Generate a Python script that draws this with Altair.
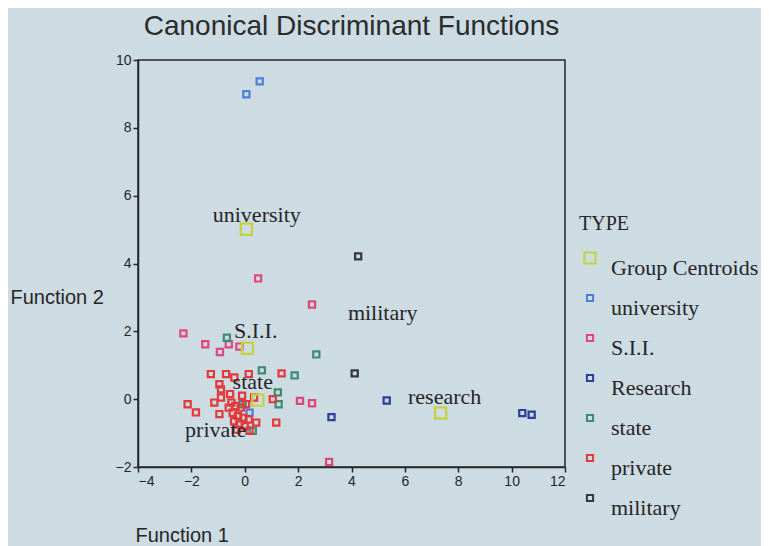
import altair as alt
import pandas as pd

# ---- data ----
order = ["Group Centroids", "university", "S.I.I.", "Research", "state", "private", "military"]
colors = ["#c6d23a", "#4a80d8", "#df4879", "#2c3e9c", "#3b8c70", "#e4393c", "#383838"]
sizes = [125, 38, 38, 38, 38, 38, 38]

uni_x = [0.56, 0.06, 0.18]
uni_y = [9.37, 8.99, -0.40]

sii_x = [0.50, 2.52, -2.30, -1.48, -0.93, -0.60, -0.20, 2.07, 2.52, 3.16]
sii_y = [3.56, 2.79, 1.94, 1.62, 1.39, 1.62, 1.55, -0.05, -0.12, -1.85]

res_x = [5.32, 3.25, 10.40, 10.75]
res_y = [-0.04, -0.53, -0.41, -0.46]

state_x = [0.64, 1.24, 1.27, -0.08, 0.30, 1.87, 2.68, -0.67]
state_y = [0.85, 0.20, -0.15, -0.15, -0.93, 0.70, 1.32, 1.81]

priv_x = [-1.27, -0.70, -0.39, -0.95, -0.89, 1.38, -2.14, -1.83, -1.14, -0.89,
          -0.95, 0.43, 1.05, 1.18, 0.18, 0.15, 0.35,
          -0.50, -0.35, -0.15, -0.45, -0.25, -0.05, -0.40, -0.20, 0.00, -0.30,
          -0.10, -0.60, 0.15, -0.55, 0.05]
priv_y = [0.74, 0.74, 0.64, 0.44, 0.29, 0.76, -0.15, -0.39, -0.10, 0.05,
          -0.44, -0.69, 0.00, -0.69, -0.93, 0.74, 0.05,
          -0.10, -0.20, -0.25, -0.40, -0.50, -0.55, -0.65, -0.75, -0.80, -0.90,
          0.10, -0.25, -0.60, 0.15, -0.15]

mil_x = [4.25, 4.12]
mil_y = [4.21, 0.76]

cen_x = [0.06, 0.10, 0.49, 7.34]
cen_y = [5.01, 1.50, -0.03, -0.41]

lab_text = ["university", "S.I.I.", "state", "private", "military", "research"]
lab_x = [0.45, 0.41, 0.30, -1.09, 5.17, 7.49]
lab_y = [5.44, 2.00, 0.50, -0.91, 2.53, 0.06]

x_ticks = [-4, -2, 0, 2, 4, 6, 8, 10, 12]
y_ticks = [-2, 0, 2, 4, 6, 8, 10]

# ---- build tables ----
rows = []
for name, xs, ys in [("university", uni_x, uni_y), ("S.I.I.", sii_x, sii_y),
                     ("Research", res_x, res_y), ("state", state_x, state_y),
                     ("private", priv_x, priv_y), ("military", mil_x, mil_y),
                     ("Group Centroids", cen_x, cen_y)]:
    for a, b in zip(xs, ys):
        rows.append({"x": a, "y": b, "type": name})
pts = pd.DataFrame(rows)
labs = pd.DataFrame({"x": lab_x, "y": lab_y, "text": lab_text})

ink = "#262626"
xscale = alt.Scale(domain=[-4, 12], nice=False, zero=False)
yscale = alt.Scale(domain=[-2, 10], nice=False, zero=False)

legend_kw = dict(
    title="TYPE", orient="none", legendX=441, legendY=154,
    titleFont="Liberation Serif", titleFontSize=20, titleFontWeight="normal",
    titleColor=ink, titlePadding=13,
    labelFont="Liberation Serif", labelFontSize=22, labelColor=ink,
    labelBaseline="top", labelOffset=10, labelLimit=300,
    symbolType="square", symbolStrokeWidth=2, rowPadding=8,
)

points = alt.Chart(pts).mark_point(shape="square", filled=False, strokeWidth=2.2, opacity=1).encode(
    x=alt.X("x:Q", scale=xscale, axis=alt.Axis(
        values=x_ticks, title="Function 1", titleX=-3, titleY=68, titleAlign="left",
        titleBaseline="middle")),
    y=alt.Y("y:Q", scale=yscale, axis=alt.Axis(
        values=y_ticks, title="Function 2", titleAngle=0, titleX=-128, titleY=237,
        titleAlign="left", titleBaseline="middle")),
    color=alt.Color("type:N", scale=alt.Scale(domain=order, range=colors), legend=alt.Legend(**legend_kw)),
    size=alt.Size("type:N", scale=alt.Scale(type="ordinal", domain=order, range=sizes), legend=alt.Legend(**legend_kw)),
)

texts = alt.Chart(labs).mark_text(font="Liberation Serif", fontSize=22, color=ink,
                                  align="center", baseline="middle").encode(
    x=alt.X("x:Q", scale=xscale), y=alt.Y("y:Q", scale=yscale), text="text:N")

chart = alt.layer(points, texts).properties(
    width=427, height=407,
    padding={"left": 130, "top": 52, "right": 196, "bottom": 79},
    autosize=alt.AutoSizeParams(type="none"),
    background="#cddbe3",
    title=alt.TitleParams("Canonical Discriminant Functions", fontSize=28, font="Liberation Sans",
                          fontWeight="normal", color="#2b2b2b", anchor="middle", offset=12),
).configure_view(stroke=ink, strokeWidth=1.5).configure_axis(
    grid=False, domainColor=ink, domainWidth=1.5, tickColor=ink, tickWidth=1.5, tickSize=5,
    labelFont="Liberation Sans", labelFontSize=14, labelColor=ink, labelPadding=2,
    titleFont="Liberation Sans", titleFontSize=20, titleFontWeight="normal", titleColor=ink,
)

chart.save("out.html", embed_options={"renderer": "svg", "actions": False})
